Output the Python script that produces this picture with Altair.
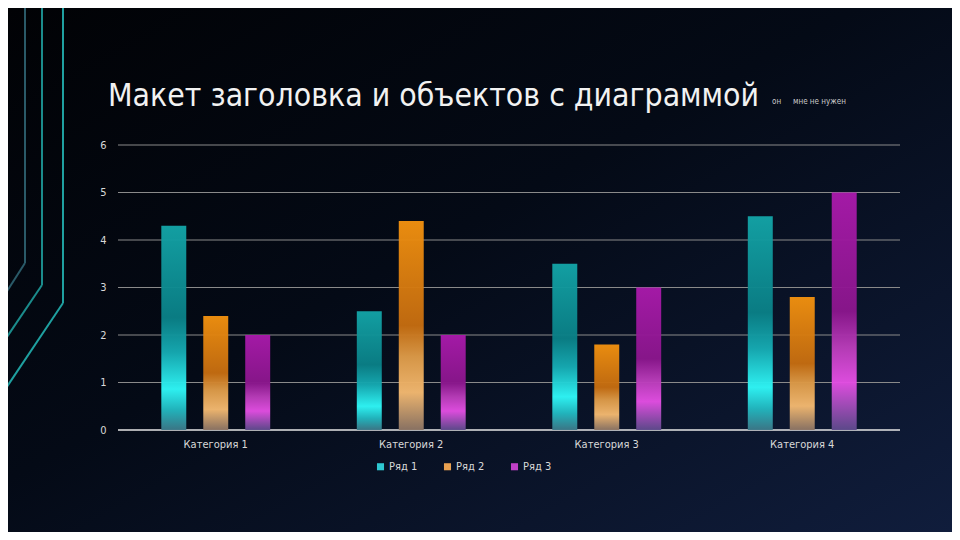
import altair as alt
import pandas as pd

categories = ["Категория 1", "Категория 2", "Категория 3", "Категория 4"]
series_names = ["Ряд 1", "Ряд 2", "Ряд 3"]
row1 = [4.3, 2.5, 3.5, 4.5]
row2 = [2.4, 4.4, 1.8, 2.8]
row3 = [2, 2, 3, 5]
y_ticks = [0, 1, 2, 3, 4, 5, 6]

title_text = "Макет заголовка и объектов с диаграммой"
note_a = "он"
note_b = "мне не нужен"

rows = []
for s, vals in zip(series_names, [row1, row2, row3]):
    for c, v in zip(categories, vals):
        rows.append({"cat": c, "series": s, "value": v})
df = pd.DataFrame(rows)

W, H = 782, 285
PL, PT = 110, 137
FULL_W, FULL_H = 944, 524
FONT = "Liberation Sans Narrow, DejaVu Sans Condensed, Liberation Sans, sans-serif"

def grad(stops):
    return alt.Gradient(gradient="linear", x1=0, y1=0, x2=0, y2=1,
                        stops=[alt.GradientStop(offset=o, color=c) for o, c in stops])

grads = {
    "Ряд 1": grad([(0, "#13a3a6"), (0.45, "#0a7f86"), (0.62, "#16aab2"), (0.8, "#2ff6f6"), (0.9, "#22b8c0"), (1, "#3c7888")]),
    "Ряд 2": grad([(0, "#f0900f"), (0.5, "#c46c10"), (0.65, "#dc9a48"), (0.82, "#f2b870"), (1, "#8c7464")]),
    "Ряд 3": grad([(0, "#a81aaa"), (0.5, "#8a168c"), (0.65, "#b83cb8"), (0.8, "#e24ee2"), (1, "#5e4a8c")]),
}
legend_colors = ["#2ec8d2", "#e8a050", "#c040c8"]

x_enc = alt.X("cat:N", sort=categories, title=None,
              scale=alt.Scale(paddingInner=0.443, paddingOuter=0.2215),
              axis=alt.Axis(labelAngle=0, labelColor="#d8d8d8", labelFont=FONT, labelFontSize=11,
                            labelPadding=8, ticks=False, domain=False, grid=False, zindex=1))
xoff_enc = alt.XOffset("series:N", sort=series_names,
                       scale=alt.Scale(domain=series_names, paddingInner=0.405, paddingOuter=0))
y_enc = alt.Y("value:Q", title=None, scale=alt.Scale(domain=[0, 6], nice=False),
              axis=alt.Axis(values=y_ticks, labelColor="#d8d8d8", labelFont=FONT, labelFontSize=11,
                            labelPadding=12, ticks=False, domain=False, grid=False, zindex=1))

bg = alt.Chart(alt.Data(values=[{}])).mark_rect(
    color=alt.Gradient(gradient="linear", x1=0, y1=0, x2=1, y2=1,
                       stops=[alt.GradientStop(offset=0, color="#010205"),
                              alt.GradientStop(offset=0.45, color="#040a16"),
                              alt.GradientStop(offset=1, color="#101d3c")])
).encode(x=alt.value(-PL), x2=alt.value(FULL_W - PL), y=alt.value(-PT), y2=alt.value(FULL_H - PT))

deco = []
segs = [
    # (x1, y1, x2, y2, color) in page coords
    (25, 0, 25, 263, "#2a5a68"), (25, 263, -10, 318, "#2a5a68"),
    (42, 0, 42, 285, "#1b8c8c"), (42, 285, -10, 362, "#1b8c8c"),
    (63, 0, 63, 303, "#1fa0a0"), (63, 303, -10, 412, "#1fa0a0"),
]
for x1, y1, x2, y2, col in segs:
    deco.append(alt.Chart(alt.Data(values=[{}])).mark_rule(color=col, strokeWidth=2).encode(
        x=alt.value(x1 - 8 - PL), x2=alt.value(x2 - 8 - PL),
        y=alt.value(y1 - 8 - PT), y2=alt.value(y2 - 8 - PT)))

grid = alt.Chart(pd.DataFrame({"v": y_ticks[1:]})).mark_rule(color="#8a8a8a", strokeWidth=1).encode(
    y=alt.Y("v:Q", scale=alt.Scale(domain=[0, 6], nice=False)))
base_line = alt.Chart(pd.DataFrame({"v": [0]})).mark_rule(color="#e6e6e6", strokeWidth=1.6).encode(
    y=alt.Y("v:Q", scale=alt.Scale(domain=[0, 6], nice=False)))

bars = []
for s in series_names:
    bars.append(alt.Chart(df).transform_filter(alt.datum.series == s).mark_bar(
        color=grads[s], opacity=0.97).encode(x=x_enc, xOffset=xoff_enc, y=y_enc))

legend_layer = alt.Chart(df).mark_square(opacity=0, size=1).encode(
    x=x_enc, xOffset=xoff_enc, y=y_enc,
    color=alt.Color("series:N", sort=series_names,
                    scale=alt.Scale(domain=series_names, range=legend_colors),
                    legend=alt.Legend(title=None, orient="none", direction="horizontal",
                                      legendX=257, legendY=316, symbolType="square", symbolSize=50,
                                      symbolOpacity=1, symbolStrokeWidth=0, labelColor="#d8d8d8",
                                      labelFont=FONT, labelFontSize=11, labelOffset=3,
                                      columnPadding=24, padding=0)))

title = alt.Chart(alt.Data(values=[{}])).mark_text(
    text=title_text, align="left", baseline="alphabetic", font=FONT, fontSize=31.7, color="#f2f2f2"
).encode(x=alt.value(108 - 8 - PL), y=alt.value(106 - 8 - PT))
noteA = alt.Chart(alt.Data(values=[{}])).mark_text(
    text=note_a, align="left", baseline="alphabetic", font=FONT, fontSize=8, color="#c8c8c8"
).encode(x=alt.value(772 - 8 - PL), y=alt.value(104 - 8 - PT))
noteB = alt.Chart(alt.Data(values=[{}])).mark_text(
    text=note_b, align="left", baseline="alphabetic", font=FONT, fontSize=8, color="#c8c8c8"
).encode(x=alt.value(793 - 8 - PL), y=alt.value(104 - 8 - PT))

chart = alt.layer(bg, *deco, grid, base_line, *bars, legend_layer, title, noteA, noteB).properties(
    width=W, height=H,
    autosize=alt.AutoSizeParams(type="none"),
    padding={"left": PL, "top": PT, "right": FULL_W - PL - W, "bottom": FULL_H - PT - H},
    background="#050a14",
).configure_view(stroke=None).resolve_scale(y="shared")

chart.save("out.html", embed_options={"renderer": "svg", "actions": False})
